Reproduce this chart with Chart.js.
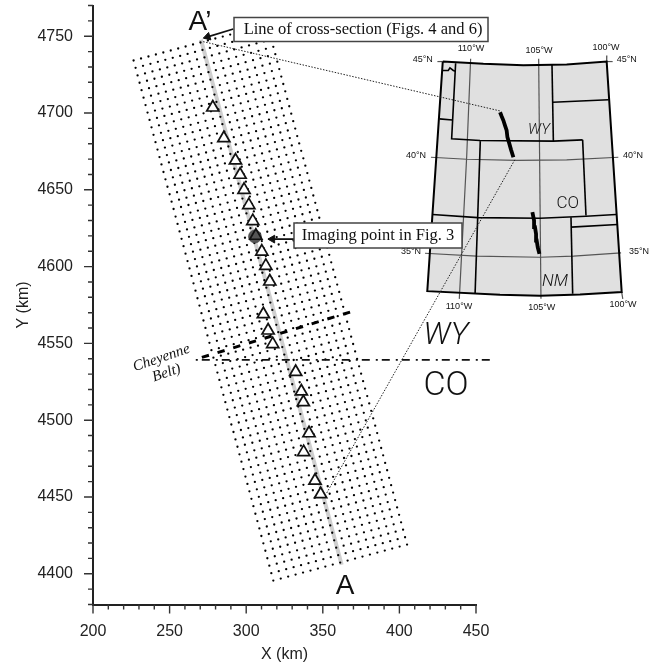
<!DOCTYPE html>
<html>
<head>
<meta charset="utf-8">
<style>
  html, body { margin: 0; padding: 0; background: #fff; }
  canvas { display: block; }
</style>
<script src="https://cdn.jsdelivr.net/npm/chart.js@4"></script>
</head>
<body>
<canvas id="sectionMap" width="657" height="665"></canvas>
<script>
// Stations along the line (km)
const stationX = [278.2, 285.4, 293.0, 296.0, 298.6, 301.7, 304.3, 306.3, 310.2, 312.8, 315.4, 311.2, 314.3, 317.3, 332.3, 336.0, 337.3, 341.0, 337.5, 344.9, 348.6];
const stationY = [4703.6, 4683.6, 4669.1, 4659.8, 4650.0, 4640.0, 4629.6, 4620.1, 4609.8, 4600.5, 4590.3, 4569.0, 4558.4, 4549.5, 4531.4, 4518.7, 4511.7, 4491.5, 4479.2, 4460.6, 4451.8];
const imagingPoint = [[305.7, 4619.6]];
const imagingStation = 7;

const gridRowX = [226.5, 227.8, 229.1, 230.4, 231.7, 233.0, 234.3, 235.6, 236.9, 238.2, 239.5, 240.8, 242.1, 243.4, 244.7, 246.0, 247.3, 248.6, 250.0, 251.3, 252.6, 253.9, 255.2, 256.5, 257.8, 259.1, 260.4, 261.7, 263.0, 264.3, 265.6, 266.9, 268.2, 269.5, 270.8, 272.1, 273.4, 274.7, 276.0, 277.3, 278.6, 279.9, 281.2, 282.5, 283.8, 285.1, 286.4, 287.7, 289.0, 290.3, 291.7, 293.0, 294.3, 295.6, 296.9, 298.2, 299.5, 300.8, 302.1, 303.4, 304.7, 306.0, 307.3, 308.6, 309.9, 311.2, 312.5, 313.8, 315.1, 316.4, 317.7];
const gridRowY = [4734.2, 4729.4, 4724.5, 4719.7, 4714.9, 4710.0, 4705.2, 4700.3, 4695.5, 4690.7, 4685.8, 4681.0, 4676.2, 4671.3, 4666.5, 4661.6, 4656.8, 4652.0, 4647.1, 4642.3, 4637.5, 4632.6, 4627.8, 4622.9, 4618.1, 4613.3, 4608.4, 4603.6, 4598.8, 4593.9, 4589.1, 4584.3, 4579.4, 4574.6, 4569.7, 4564.9, 4560.1, 4555.2, 4550.4, 4545.6, 4540.7, 4535.9, 4531.0, 4526.2, 4521.4, 4516.5, 4511.7, 4506.9, 4502.0, 4497.2, 4492.3, 4487.5, 4482.7, 4477.8, 4473.0, 4468.2, 4463.3, 4458.5, 4453.7, 4448.8, 4444.0, 4439.1, 4434.3, 4429.5, 4424.6, 4419.8, 4415.0, 4410.1, 4405.3, 4400.4, 4395.6];
// Offset of each column from the row's west end
const gridColDX = [0, 4.85, 9.7, 14.55, 19.4, 24.25, 29.1, 33.95, 38.8, 43.65, 48.5, 53.35, 58.2, 63.05, 67.9, 72.75, 77.6, 82.45, 87.3];
const gridColDY = [0, 1.3, 2.6, 3.9, 5.2, 6.5, 7.8, 9.1, 10.4, 11.7, 13, 14.3, 15.6, 16.9, 18.2, 19.5, 20.8, 22.1, 23.4];

const crossSection = [[270.5, 4747.7], [362.3, 4405.9]];
const cheyenneBelt = [[270.8, 4540.8], [367.8, 4570.4]];
const stateLine = [[266.7, 4539.3], [459, 4539.3]];
const leaderNorth = [[271.8, 4746.5], [465.5, 4701.4]];
const leaderSouth = [[352.5, 4452.5], [475.3, 4669.5]];
const arrowCrossSection = [[291.6, 4754.7], [274.8, 4749.6]];
const arrowImaging = [[331.2, 4617.9], [317.1, 4617.9]];

// Inset map, in the same km frame as the main plot
const mapOutline = [[428.3, 4733.5], [454.8, 4732.0], [480.9, 4731.1], [509.2, 4731.6], [535.3, 4733.5], [545.1, 4583.4], [517.9, 4581.8], [491.8, 4581.0], [465.7, 4581.6], [418.2, 4584.0], [428.3, 4733.5]];
const wyLeftBottom = [[436.7, 4732.4], [434.1, 4683.2], [452.6, 4682.1], [500.5, 4681.7], [519.6, 4682.5]];
const wyRight = [[499.6, 4731.6], [500.5, 4681.7]];
const neNorth = [[500.1, 4707.0], [536.6, 4708.6]];
const coLeft = [[452.8, 4681.7], [451.1, 4632.2]];
const coRight = [[519.6, 4682.5], [521.8, 4633.3]];
const line37N = [[421.7, 4633.9], [451.1, 4631.9], [491.8, 4631.5], [521.8, 4632.8], [541.4, 4633.9]];
const nmLeft = [[451.1, 4631.9], [449.4, 4582.3]];
const nmRight = [[512.0, 4632.2], [513.1, 4582.3]];
const txNorth = [[512.0, 4625.7], [542.3, 4627.4]];
const utNotch = [[426.1, 4696.2], [434.6, 4695.5]];
const mtWiggle = [[428.3, 4727.7], [431.9, 4727.7], [433.0, 4729.4], [435.2, 4727.7], [436.7, 4727.2]];
const mapBorders = [wyLeftBottom, wyRight, neNorth, coLeft, coRight, line37N, nmLeft, nmRight, txNorth, utNotch, mtWiggle];

const meridian110 = [[446.5, 4735.3], [443.9, 4671.2], [439.1, 4579.0]];
const meridian105 = [[490.9, 4735.3], [492.4, 4579.0]];
const stub100Top = [[535.4, 4737.4], [535.3, 4733.5]];
const stub100Bottom = [[545.1, 4583.4], [545.8, 4579.0]];
const stub45West = [[424.8, 4733.5], [428.3, 4733.5]];
const stub45East = [[535.3, 4733.5], [539.2, 4733.5]];
const parallel40 = [[420.6, 4671.2], [443.9, 4669.9], [476.6, 4669.1], [509.2, 4669.5], [542.9, 4671.2]];
const parallel35 = [[416.7, 4608.7], [450.4, 4606.8], [491.8, 4606.1], [513.6, 4606.8], [544.7, 4609.0]];
const mapGraticule = [meridian110, meridian105, stub100Top, stub100Bottom, stub45West, stub45East, parallel40, parallel35];

const transectNorth = [[465.7, 4700.5], [466.8, 4697.7], [467.9, 4695.1], [468.9, 4691.9], [470.0, 4688.6], [470.5, 4684.3], [471.8, 4679.9], [472.9, 4676.0], [474.4, 4671.2]];
const transectSouth = [[486.8, 4635.4], [487.9, 4630.0], [488.5, 4625.7], [489.2, 4621.3], [489.6, 4617.0], [490.3, 4612.6], [491.4, 4608.3]];

const SANS = '"Liberation Sans", Arial, sans-serif';
const SERIF = '"Liberation Serif", "Times New Roman", serif';
const LIGHT = 'Roboto, "Liberation Sans", sans-serif';

// [text, x, y, font, rotation in degrees]
const textLabels = [
  ["A\u2019", 200, 22, '28px ' + SANS, 0],
  ['A', 345, 586, '28px ' + SANS, 0],
  ['WY', 446, 336, 'italic 300 31px ' + LIGHT, 0],
  ['CO', 446, 386, '300 34px ' + LIGHT, 0],
  ['Cheyenne', 161.5, 358, 'italic 15px ' + SERIF, -19],
  ['Belt)', 166.5, 373, 'italic 15px ' + SERIF, -19],
  ['WY', 539, 130, 'italic 300 15px ' + LIGHT, 0],
  ['CO', 567.7, 203.3, '300 17px ' + LIGHT, 0],
  ['NM', 555, 281.7, 'italic 300 17px ' + LIGHT, 0],
  ['110\u00b0W', 471, 49, '9px ' + SANS, 0],
  ['105\u00b0W', 539, 50.7, '9px ' + SANS, 0],
  ['100\u00b0W', 606, 48, '9px ' + SANS, 0],
  ['45\u00b0N', 422.7, 60, '9px ' + SANS, 0],
  ['45\u00b0N', 626.7, 60, '9px ' + SANS, 0],
  ['40\u00b0N', 416, 156, '9px ' + SANS, 0],
  ['40\u00b0N', 633, 156, '9px ' + SANS, 0],
  ['35\u00b0N', 411, 251.7, '9px ' + SANS, 0],
  ['35\u00b0N', 639, 251.7, '9px ' + SANS, 0],
  ['110\u00b0W', 459, 307, '9px ' + SANS, 0],
  ['105\u00b0W', 541.7, 308, '9px ' + SANS, 0],
  ['100\u00b0W', 623, 305, '9px ' + SANS, 0]
];

// [text, left, top, right, bottom, text centre x]
const callouts = [
  ['Line of cross-section (Figs. 4 and 6)', 234, 17.5, 488, 41.5, 363],
  ['Imaging point in Fig. 3', 294, 223, 462, 248, 378]
];

function toPoints(pairs) {
  return pairs.map(p => ({ x: p[0], y: p[1] }));
}

// Lines that run past the x max must not be in ascending x order, otherwise
// Chart.js trims them at the scale edge
function lineData(pairs) {
  const first = pairs[0][0];
  const last = pairs[pairs.length - 1][0];
  return toPoints(first < last ? pairs.slice().reverse() : pairs);
}

function lineSet(pairs, color, width, dash) {
  return {
    data: lineData(pairs),
    showLine: true,
    borderColor: color,
    borderWidth: width,
    borderDash: dash || [],
    pointRadius: 0,
    fill: false,
    clip: false
  };
}

function arrowSet(pairs, rotation) {
  return {
    data: toPoints(pairs),
    showLine: true,
    borderColor: '#111',
    borderWidth: 1.8,
    pointRadius: [0, 4.5],
    pointStyle: 'triangle',
    pointRotation: rotation,
    pointBackgroundColor: '#111',
    pointBorderColor: '#111',
    pointBorderWidth: 1,
    clip: false
  };
}

const gridPoints = [];
gridRowX.forEach((rowX, r) => {
  gridColDX.forEach((dx, c) => {
    gridPoints.push({ x: rowX + dx, y: gridRowY[r] + gridColDY[c] });
  });
});

// First entry is drawn on top
const datasets = [
  {
    data: stationX.map((x, i) => ({ x: x, y: stationY[i] })),
    pointStyle: 'triangle',
    pointRadius: 7,
    pointBorderWidth: 1.7,
    pointBorderColor: '#111',
    pointBackgroundColor: stationX.map((x, i) => i === imagingStation ? 'transparent' : '#fff'),
    clip: false
  },
  {
    data: toPoints(imagingPoint),
    pointStyle: 'circle',
    pointRadius: 6.5,
    pointBorderWidth: 0.5,
    pointBorderColor: '#333',
    pointBackgroundColor: '#555',
    clip: false
  },
  arrowSet(arrowCrossSection, 253),
  arrowSet(arrowImaging, 270),
  lineSet(leaderNorth, '#222', 1, [1.5, 1.5]),
  lineSet(leaderSouth, '#222', 1, [1.5, 1.5]),
  lineSet(transectNorth, '#000', 3.8),
  lineSet(transectSouth, '#000', 3.8),
  lineSet(cheyenneBelt, '#000', 3, [7.4, 9]),
  lineSet(stateLine, '#111', 1.6, [8, 4, 2, 6]),
  lineSet(mapOutline, '#000', 2)
]
  .concat(mapBorders.map(b => lineSet(b, '#000', 1.6)))
  .concat(mapGraticule.map(g => lineSet(g, '#555', 1.2)))
  .concat([
    {
      data: gridPoints,
      pointStyle: 'circle',
      pointRadius: 1.15,
      pointBorderWidth: 0,
      pointBackgroundColor: '#000',
      clip: false
    },
    lineSet(crossSection, '#cfcfcf', 4)
  ]);

// The land fill of the inset sits outside the chart area, where the Filler clips
const mapFillPlugin = {
  id: 'mapFill',
  beforeDatasetsDraw(chart) {
    const { ctx, scales } = chart;
    ctx.save();
    ctx.beginPath();
    mapOutline.forEach((p, i) => {
      const px = scales.x.getPixelForValue(p[0]);
      const py = scales.y.getPixelForValue(p[1]);
      if (i === 0) ctx.moveTo(px, py); else ctx.lineTo(px, py);
    });
    ctx.closePath();
    ctx.fillStyle = '#e0e0e0';
    ctx.fill();
    ctx.restore();
  }
};

// Long ticks at the labelled values, short ones between
const axisTicksPlugin = {
  id: 'axisTicks',
  afterDraw(chart) {
    const { ctx, scales, chartArea } = chart;
    ctx.save();
    ctx.strokeStyle = '#333';
    ctx.lineWidth = 1.4;
    ctx.beginPath();
    scales.x.ticks.forEach(t => {
      const px = scales.x.getPixelForValue(t.value);
      ctx.moveTo(px, chartArea.bottom);
      ctx.lineTo(px, chartArea.bottom + (t.value % 50 === 0 ? 9 : 5));
    });
    scales.y.ticks.forEach(t => {
      const py = scales.y.getPixelForValue(t.value);
      ctx.moveTo(chartArea.left, py);
      ctx.lineTo(chartArea.left - (t.value % 50 === 0 ? 9 : 5), py);
    });
    ctx.stroke();
    ctx.restore();
  }
};

const annotationPlugin = {
  id: 'annotations',
  afterDatasetsDraw(chart) {
    const { ctx } = chart;
    ctx.save();
    ctx.textAlign = 'center';
    ctx.textBaseline = 'middle';
    ctx.fillStyle = '#111';
    textLabels.forEach(l => {
      ctx.save();
      ctx.translate(l[1], l[2]);
      ctx.rotate(l[4] * Math.PI / 180);
      ctx.font = l[3];
      ctx.fillText(l[0], 0, 0);
      ctx.restore();
    });
    callouts.forEach(c => {
      ctx.fillStyle = '#fff';
      ctx.fillRect(c[1], c[2], c[3] - c[1], c[4] - c[2]);
      ctx.strokeStyle = '#444';
      ctx.lineWidth = 1.5;
      ctx.strokeRect(c[1], c[2], c[3] - c[1], c[4] - c[2]);
      ctx.fillStyle = '#111';
      ctx.font = '16.5px ' + SERIF;
      ctx.fillText(c[0], c[5], (c[2] + c[4]) / 2 + 0.5);
    });
    ctx.restore();
  }
};

new Chart(document.getElementById('sectionMap'), {
  type: 'scatter',
  data: { datasets: datasets },
  plugins: [mapFillPlugin, axisTicksPlugin, annotationPlugin],
  options: {
    responsive: false,
    animation: false,
    layout: { autoPadding: false, padding: { left: 0, right: 181, top: 5.5, bottom: 0 } },
    plugins: {
      legend: { display: false },
      tooltip: { enabled: false }
    },
    scales: {
      x: {
        type: 'linear',
        min: 200,
        max: 450,
        afterFit(scale) {
          scale.height = 60.5;
          scale.paddingLeft = 0;
          scale.paddingRight = 0;
        },
        border: { display: true, color: '#222', width: 2 },
        grid: { drawOnChartArea: false, drawTicks: false },
        ticks: {
          stepSize: 10,
          autoSkip: false,
          maxRotation: 0,
          padding: 17,
          color: '#222',
          font: { family: SANS, size: 16 },
          callback: v => (v % 50 === 0 ? v : '')
        },
        title: {
          display: true,
          text: 'X (km)',
          color: '#222',
          font: { family: SANS, size: 16 },
          padding: { top: 0, bottom: 1 }
        }
      },
      y: {
        type: 'linear',
        min: 4380,
        max: 4770,
        afterFit(scale) {
          scale.width = 93;
          scale.paddingTop = 0;
          scale.paddingBottom = 0;
        },
        border: { display: true, color: '#222', width: 2 },
        grid: { drawOnChartArea: false, drawTicks: false },
        ticks: {
          stepSize: 10,
          autoSkip: false,
          padding: 20,
          color: '#222',
          font: { family: SANS, size: 16 },
          callback: v => (v % 50 === 0 ? v : '')
        },
        title: {
          display: true,
          text: 'Y (km)',
          color: '#222',
          font: { family: SANS, size: 16 },
          padding: { top: 14, bottom: 0 }
        }
      }
    }
  }
});
</script>
</body>
</html>
